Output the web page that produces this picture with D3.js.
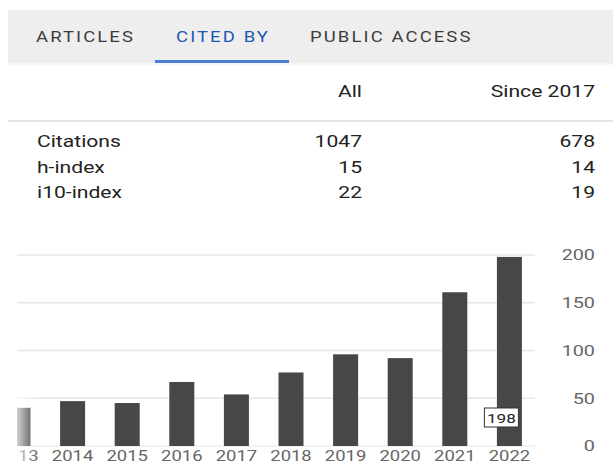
<!DOCTYPE html>
<html>
<head>
<meta charset="utf-8">
<script src="https://cdn.jsdelivr.net/npm/d3@7"></script>
<style>
  body { margin: 0; background: #fff; }
  svg { display: block; font-family: Roboto, "Noto Sans", sans-serif; }
</style>
</head>
<body>
<svg width="613" height="465"></svg>
<script>
// data
const tabs = ["ARTICLES", "CITED BY", "PUBLIC ACCESS"];
const activeTab = "CITED BY";
const columns = ["All", "Since 2017"];
const rowLabels = ["Citations", "h-index", "i10-index"];
const allValues = [1047, 15, 22];
const sinceValues = [678, 14, 19];
const years = [2013, 2014, 2015, 2016, 2017, 2018, 2019, 2020, 2021, 2022];
const citations = [40, 47, 45, 67, 54, 77, 96, 92, 161, 198];
const yTicks = [0, 50, 100, 150, 200];
const hoverYear = 2022;

// the screenshot is stretched sideways, so text is too
const k = 1.32;

const svg = d3.select("svg");

function stretched(sel, x, y) {
    return sel.attr("transform", `translate(${x},${y}) scale(${k},1)`);
}

// tab bar
const tabBar = svg.append("g");
tabBar.append("rect")
    .attr("x", 8).attr("y", 10)
    .attr("width", 605).attr("height", 53)
    .attr("fill", "#eeeeee");
tabBar.append("rect")
    .attr("x", 8).attr("y", 63)
    .attr("width", 605).attr("height", 2)
    .attr("fill", "#f6f6f6");

const tabX = [36, 176, 310];
tabs.forEach((t, i) => {
    stretched(tabBar.append("text"), tabX[i], 42)
        .attr("font-size", 14)
        .attr("letter-spacing", 1.6)
        .attr("fill", t === activeTab ? "#1c58b3" : "#3c3c3c")
        .text(t);
});
tabBar.append("rect")
    .attr("x", 155).attr("y", 60)
    .attr("width", 134).attr("height", 3)
    .attr("fill", "#4a7cd2");

// stats table
const table = svg.append("g");
stretched(table.append("text"), 362, 97)
    .attr("text-anchor", "end").attr("font-size", 16).attr("fill", "#222")
    .text(columns[0]);
stretched(table.append("text"), 595, 97)
    .attr("text-anchor", "end").attr("font-size", 16).attr("fill", "#222")
    .text(columns[1]);

table.append("rect")
    .attr("x", 8).attr("y", 120)
    .attr("width", 605).attr("height", 2)
    .attr("fill", "#e4e4e4");

const rowY = [147, 173, 198];
rowLabels.forEach((r, i) => {
    stretched(table.append("text"), 37, rowY[i])
        .attr("font-size", 16).attr("fill", "#222").text(r);
    stretched(table.append("text"), 362, rowY[i])
        .attr("text-anchor", "end").attr("font-size", 16).attr("fill", "#222")
        .text(allValues[i]);
    stretched(table.append("text"), 595, rowY[i])
        .attr("text-anchor", "end").attr("font-size", 16).attr("fill", "#222")
        .text(sinceValues[i]);
});

// chart
const yScale = d3.scaleLinear()
    .domain([0, 200])
    .range([446, 255]);

const xScale = d3.scaleBand()
    .domain(years)
    .range([-9.3, 536.7])
    .paddingInner(0.542)
    .paddingOuter(0.271);

svg.append("clipPath").attr("id", "clip")
    .append("rect")
    .attr("x", 17).attr("y", 230)
    .attr("width", 596).attr("height", 235);

const chart = svg.append("g").attr("clip-path", "url(#clip)");

chart.selectAll(".grid")
    .data(yTicks)
    .join("line")
    .attr("class", "grid")
    .attr("x1", 17).attr("x2", 535)
    .attr("y1", d => yScale(d)).attr("y2", d => yScale(d))
    .attr("stroke", d => d === 0 ? "#eeeeee" : "#e6e6e6")
    .attr("stroke-width", 1.5);

chart.selectAll(".bar")
    .data(years)
    .join("rect")
    .attr("class", "bar")
    .attr("x", d => xScale(d))
    .attr("y", (d, i) => yScale(citations[i]))
    .attr("width", xScale.bandwidth())
    .attr("height", (d, i) => yScale(0) - yScale(citations[i]))
    .attr("fill", "#474747");

const xAxis = chart.append("g")
    .attr("transform", `translate(0,${yScale(0)})`)
    .call(d3.axisBottom(xScale).tickSize(0));
xAxis.select(".domain").remove();
xAxis.selectAll("text")
    .attr("dy", null)
    .attr("y", 15)
    .attr("transform", `scale(${k},1)`)
    .attr("font-family", "Roboto, sans-serif")
    .attr("font-size", 14)
    .attr("fill", "#666");

// left edge fade
const grad = svg.append("defs").append("linearGradient")
    .attr("id", "fade").attr("x1", 0).attr("x2", 1).attr("y1", 0).attr("y2", 0);
grad.append("stop").attr("offset", 0).attr("stop-color", "#fff").attr("stop-opacity", 0.75);
grad.append("stop").attr("offset", 1).attr("stop-color", "#fff").attr("stop-opacity", 0);
svg.append("rect")
    .attr("x", 17).attr("y", 370)
    .attr("width", 20).attr("height", 95)
    .attr("fill", "url(#fade)");

// y axis on the right
const yAxis = svg.append("g")
    .attr("transform", "translate(595,0)")
    .call(d3.axisLeft(yScale).tickValues(yTicks).tickSize(0).tickPadding(0));
yAxis.select(".domain").remove();
yAxis.selectAll("text")
    .attr("transform", `scale(${k},1)`)
    .attr("font-family", "Roboto, sans-serif")
    .attr("font-size", 15)
    .attr("fill", "#666");

// hover label on the last bar
const hi = years.indexOf(hoverYear);
const cx = xScale(hoverYear) + xScale.bandwidth() / 2;
const tip = svg.append("g")
    .attr("transform", `translate(${cx - 25},${yScale(0) - 38})`);
tip.append("rect")
    .attr("x", 0).attr("y", 0)
    .attr("width", 34).attr("height", 19)
    .attr("fill", "#fff")
    .attr("stroke", "#333").attr("stroke-width", 1);
stretched(tip.append("text"), 17, 14.5)
    .attr("text-anchor", "middle")
    .attr("font-size", 13)
    .attr("fill", "#222")
    .text(citations[hi]);
</script>
</body>
</html>
